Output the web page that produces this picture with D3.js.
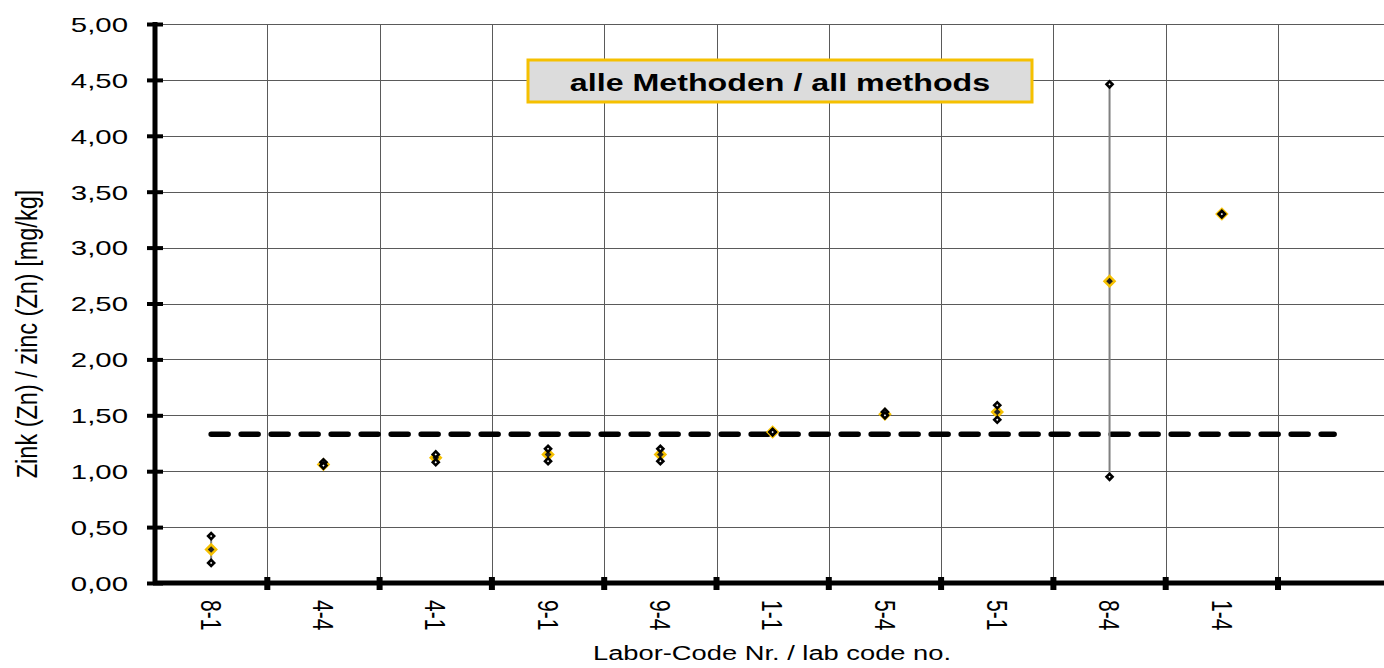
<!DOCTYPE html>
<html>
<head>
<meta charset="utf-8">
<script src="https://cdn.jsdelivr.net/npm/d3@7/dist/d3.min.js"></script>
<style>
  html, body { margin: 0; padding: 0; background: #fff; }
  svg { display: block; }
  text { font-family: "Liberation Sans", Arial, sans-serif; fill: #000; }
</style>
</head>
<body>
<svg id="chart" width="1384" height="668"></svg>
<script>
// ---- data ----
const categories = ["8-1", "4-4", "4-1", "9-1", "9-4", "1-1", "5-4", "5-1", "8-4", "1-4"];
const meanValues = [0.30, 1.06, 1.12, 1.15, 1.15, 1.35, 1.51, 1.53, 2.70, 3.30];
const maxValues  = [0.42, 1.08, 1.15, 1.20, 1.20, 1.35, 1.53, 1.59, 4.46, 3.30];
const minValues  = [0.18, 1.05, 1.08, 1.09, 1.09, 1.35, 1.50, 1.46, 0.95, 3.30];
const assignedValue = 1.33;
const yTicks = [0, 0.5, 1.0, 1.5, 2.0, 2.5, 3.0, 3.5, 4.0, 4.5, 5.0];
const legendText = "alle Methoden / all methods";
const xTitle = "Labor-Code Nr. / lab code no.";
const yTitle = "Zink (Zn) / zinc (Zn) [mg/kg]";

// ---- layout ----
const W = 1384, H = 668;
const plotLeft = 155, plotTop = 24, plotBottom = 583;
const band = 112.3;
const domainCats = categories.concat([""]);   // one empty slot at the end
const SX = 1.4;                                // horizontal text stretch
const gridColor = "#5a5a5a";
const gold = "#f5c000";

const svg = d3.select("#chart");

const x = d3.scaleBand().domain(domainCats).range([plotLeft, plotLeft + band * domainCats.length]).padding(0);
const y = d3.scaleLinear().domain([0, 5]).range([plotBottom, plotTop]);
const px = v => Math.round(v) + 0.5;

// gridlines
const grid = svg.append("g");
grid.selectAll("line.h").data(yTicks.filter(d => d > 0)).join("line")
  .attr("x1", plotLeft).attr("x2", W)
  .attr("y1", d => px(y(d))).attr("y2", d => px(y(d)))
  .attr("stroke", gridColor).attr("stroke-width", 1);
grid.selectAll("line.v").data(domainCats.slice(1)).join("line")
  .attr("x1", d => px(x(d))).attr("x2", d => px(x(d)))
  .attr("y1", plotTop).attr("y2", plotBottom)
  .attr("stroke", gridColor).attr("stroke-width", 1);

// legend / title box
const lg = svg.append("g");
lg.append("rect").attr("x", 528).attr("y", 60).attr("width", 504).attr("height", 42)
  .attr("fill", "#dcdcdc").attr("stroke", gold).attr("stroke-width", 3);
lg.append("text").attr("transform", `translate(780,91) scale(${SX},1)`)
  .attr("text-anchor", "middle").attr("font-size", 23).attr("font-weight", "bold")
  .text(legendText);

// assigned value dashed line
svg.append("line")
  .attr("x1", x(categories[0]) + x.bandwidth() / 2)
  .attr("x2", x("") + x.bandwidth() / 2)
  .attr("y1", y(assignedValue)).attr("y2", y(assignedValue))
  .attr("stroke", "#000").attr("stroke-width", 5.5)
  .attr("stroke-linecap", "round").attr("stroke-dasharray", "17,13");

// data
const data = categories.map((c, i) => ({ c, mean: meanValues[i], max: maxValues[i], min: minValues[i] }));
const cx = d => x(d.c) + x.bandwidth() / 2;

const pts = svg.append("g");
pts.selectAll("line.err").data(data.filter(d => d.max !== d.min)).join("line")
  .attr("x1", cx).attr("x2", cx)
  .attr("y1", d => y(d.max)).attr("y2", d => y(d.min))
  .attr("stroke", "#808080").attr("stroke-width", 2);

const bigDiamond = d3.symbol().type(d3.symbolSquare).size(92);
const midDiamond = d3.symbol().type(d3.symbolSquare).size(22);
const smallDiamond = d3.symbol().type(d3.symbolSquare).size(18);

// mean markers
pts.selectAll("path.meanOuter").data(data).join("path")
  .attr("d", bigDiamond)
  .attr("transform", d => `translate(${cx(d)},${y(d.mean)}) rotate(45)`)
  .attr("fill", gold);
pts.selectAll("path.meanInner").data(data).join("path")
  .attr("d", midDiamond)
  .attr("transform", d => `translate(${cx(d)},${y(d.mean)}) rotate(45)`)
  .attr("fill", "#222");

// min / max markers
const mm = data.flatMap(d => [{ c: d.c, v: d.max }, { c: d.c, v: d.min }]);
pts.selectAll("path.mm").data(mm).join("path")
  .attr("d", smallDiamond)
  .attr("transform", d => `translate(${cx(d)},${y(d.v)}) rotate(45)`)
  .attr("fill", "#fff").attr("stroke", "#000").attr("stroke-width", 2.6);

// y axis
const yAxis = svg.append("g").attr("transform", `translate(${plotLeft},0)`)
  .call(d3.axisLeft(y).tickValues(yTicks).tickSizeOuter(0).tickSize(8)
    .tickFormat(d => d.toFixed(2).replace(".", ",")));
yAxis.select(".domain").attr("stroke", "#000").attr("stroke-width", 5)
  .attr("d", `M0,${plotTop - 2}V${plotBottom + 2}`);
yAxis.selectAll(".tick line").attr("x1", -8).attr("x2", 8)
  .attr("stroke", "#000").attr("stroke-width", 4);
yAxis.selectAll(".tick text").attr("x", null).attr("dy", "0.35em")
  .attr("transform", `translate(-27,0) scale(${SX},1)`)
  .attr("font-size", 21).attr("font-family", "Liberation Sans, Arial, sans-serif").attr("fill", "#000");

// x axis
const xAxis = svg.append("g").attr("transform", `translate(0,${plotBottom})`)
  .call(d3.axisBottom(x).tickSize(0).tickSizeOuter(0));
xAxis.select(".domain").attr("stroke", "#000").attr("stroke-width", 5)
  .attr("d", `M${plotLeft - 2},0H${W}`);
xAxis.selectAll(".tick text").attr("y", null).attr("dy", "0.35em")
  .attr("text-anchor", "start")
  .attr("transform", `translate(0,17) scale(${SX},1) rotate(90)`)
  .attr("font-size", 21).attr("font-family", "Liberation Sans, Arial, sans-serif").attr("fill", "#000");
xAxis.selectAll("line.bt").data(domainCats.slice(1)).join("line")
  .attr("class", "bt")
  .attr("x1", d => x(d)).attr("x2", d => x(d))
  .attr("y1", -6).attr("y2", 7)
  .attr("stroke", "#000").attr("stroke-width", 6);

// axis titles
svg.append("text").attr("transform", `translate(772,660) scale(${SX},1)`)
  .attr("text-anchor", "middle").attr("font-size", 19.5).text(xTitle);
svg.append("text").attr("transform", `translate(27,334) scale(1.25,1) rotate(-90)`)
  .attr("text-anchor", "middle").attr("dy", "0.35em").attr("font-size", 23.5).text(yTitle);
</script>
</body>
</html>
